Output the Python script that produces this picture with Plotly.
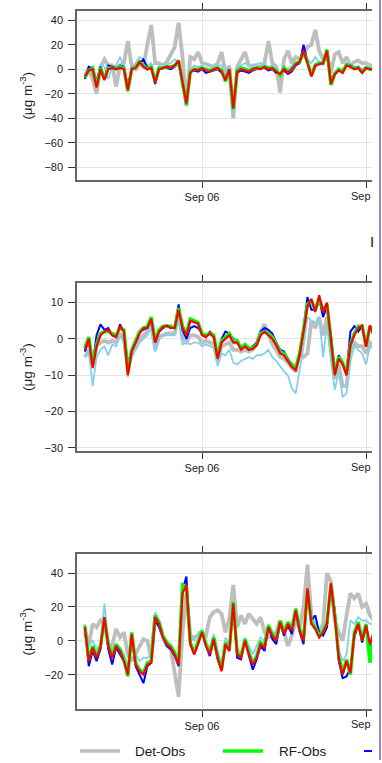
import pandas as pd
import plotly.graph_objects as go

W, H = 382, 763

# 4-hourly time stamps starting Sep 01 00:00
times = pd.date_range("2021-09-01 00:00", periods=75, freq="4h")

SERIES = ["Det-Obs", "Ens-Obs", "QR-Obs", "RF-Obs", "XGB-Obs"]
COLORS = {"Det-Obs": "#BEBEBE", "Ens-Obs": "#87CEEB", "QR-Obs": "#0000FF",
          "RF-Obs": "#00FF00", "XGB-Obs": "#FF0000"}
WIDTHS = {"Det-Obs": 3.8, "Ens-Obs": 1.8, "QR-Obs": 2.0, "RF-Obs": 3.4, "XGB-Obs": 2.2}

# ---- panel 1 ----
p1_det = [-4, 0, -8, -20, 2, 8, 3, 3, -14, 3, 5, 23, 2, 0, 4, 2, 20, 36, 5, 5,
          3, 6, 12, 18, 38, 10, -30, 10, 8, 14, 5, 4, 3, 2, 5, 14, -3, 3, -40, 2,
          8, 14, 3, 2, 3, 2, 5, 23, 5, 2, -19, 8, 15, 5, 10, 8, 12, 18, 20, 32,
          15, 8, 12, -3, 12, 14, 5, 10, 3, 6, 7, 5, 5, 3, 3]
p1_ens = [-5, 2, -5, -12, 3, 2, -8, 2, 3, 10, 2, -15, 2, 5, 10, 8, 3, 5, -8, 3,
          4, 4, 5, 8, 6, -15, -30, 0, 3, 2, 3, 5, 3, 2, 3, 3, -5, 2, -38, 2,
          3, 5, 3, 4, 4, 5, 4, 2, 3, 3, -6, 2, 0, 3, 5, 7, 12, 8, 5, 10,
          6, 4, 12, -8, -3, 0, 0, 3, 4, 2, 2, 0, 2, 1, 1]
p1_qr = [-8, 2, 1, -10, 2, -7, 3, 2, 1, 3, 2, -14, 1, 2, 5, 8, 1, 2, -12, 0,
         1, 1, 0, 2, 5, -10, -26, -2, -1, -2, 0, -3, -2, -1, 0, -3, -7, -1, -30, -3,
         -1, -2, -3, -1, 0, 1, 1, -1, 0, -3, -3, -1, -4, -2, 3, 5, 20, 6, -4, 4,
         5, 4, 13, -10, -3, 0, -2, 4, 3, 1, 2, -2, 1, 0, 0]
p1_rf = [-7, -1, 1, -14, 1, -8, 1, 1, 0, 2, 1, -18, 0, 2, 6, 3, 0, 2, -10, 1,
         1, 2, 2, 3, 7, -11, -29, -2, 0, 0, 1, 0, -1, 0, 1, -1, -10, 0, -33, -1,
         1, 0, -1, 0, 1, 1, 2, 1, 1, -1, -5, 1, -2, 0, 5, 6, 14, 6, -5, 3,
         5, 5, 16, -13, -4, 0, -2, 4, 2, 1, 1, -2, 1, 0, 0]
p1_xgb = [-6, -1, 0, -15, 0, -9, 0, 1, 0, 1, 0, -17, 0, 1, 6, 2, 0, 1, -11, 0,
          1, 2, 1, 3, 7, -12, -28, -3, 0, -1, 1, -1, -2, 0, 1, -2, -9, 0, -32, -2,
          0, -1, -2, 0, 1, 0, 2, 0, 1, -2, -4, 0, -3, 0, 4, 6, 15, 5, -6, 3,
          4, 5, 15, -12, -4, -1, -3, 3, 2, 0, 1, -3, 1, 0, 0]

# ---- panel 2 ----
p2_det = [-5, -3, -7, -2, -1, -0.5, -1, -0.5, -1, 1.5, 0, -8, -4, -2, 0, 1, 2, 4, -3, 0.5,
          1, 1.5, 1.5, 1.5, 7, 0, -1, 1, 1, 0.5, -1, -0.5, -1, -1.5, -6, -2, -1.5, -1, -3, -3,
          -3.5, -3, -3.5, -3, -1.5, 2, 4, 1, -1.5, -3, -5, -5.5, -6.5, -8, -9, -4, -5, -4, 5, 3,
          6, 1, 6, -1, -11, -7, -13, -13, -3, -1, -2, -2, -4, -1, -2]
p2_ens = [-5, -3.5, -13, -5, -3, -2, -4.5, -1.5, -2, 1, -1, -10.5, -5, -3, -1, 0, 1, 3, -3.5, 0,
          1, 1, 1, 1, 6, -1.5, -1, -1.5, -1, -1, -2, -1.5, -2, -2.5, -7.5, -4, -4.5, -3, -6.5, -7,
          -6, -5.5, -5, -5.5, -4.5, -4.5, -4, -3, -5, -6, -7.5, -9, -10, -13.5, -15, -9, -2, 6, 5, 4.5,
          6, -5, 4, -6, -14, -9, -16, -15, -6, -2, -3, -4, -7, -2, -3]
p2_qr = [-3.5, -0.5, -7, 1, 4, 2.5, 3, 1, 0.5, 4, 2, -7, -3, -1, 2, 2.5, 3, 5, -1, 2,
         3, 3.5, 3, 3, 9.5, 2.5, 0, 3, 3.5, 3, 1.5, 0.5, 2, 1, -4.5, 0, 2, 1.5, 0, -0.5,
         -2.5, -2, -3, -2, -1, 2, 3, 2.5, 1.5, -1, -3, -3.5, -5.5, -7, -8.5, -4, 3, 11.5, 8, 8,
         11, 6, 9, 1, -9, -4.5, -6.5, -9, 2, 3.5, 2, 3.5, -1.5, 3, 1]
p2_rf = [-2.5, 0.5, -7, -1.5, 1.5, 2, 2, 1.5, 1, 3, 2.5, -9, -3, -0.5, 2, 3, 3.5, 6, -0.5, 2.5,
         3.5, 3.5, 3.5, 3, 8.5, 3.5, 1.5, 5.5, 5, 4.5, 1.5, 1, 1.5, 1, -5, -0.5, 0.5, 1.5, -0.5, -0.5,
         -2.5, -1.5, -2.5, -2.5, -1.5, 1.5, 2, 1.5, 0.5, -1.5, -3.5, -4, -6, -7, -8, -4, 2.5, 9.5, 10.5, 8,
         11, 8, 9.5, 0.5, -9.5, -5, -6.5, -9.5, -1.5, 1.5, 3.5, 3.5, -2, 3.5, 2]
p2_xgb = [-3, 0, -8, -2, 1, 2, 2.5, 1, 0.5, 3.5, 2, -10, -3.5, -1, 1.5, 3, 3, 5.5, -1, 2,
          3.3, 3.7, 3, 3, 8, 3, 1, 5, 4.7, 4.2, 1, 0.5, 1.5, 0.5, -5.5, -1, 0, 1, -1, -1,
          -3, -2, -3, -2.7, -1.7, 1, 2, 1, 0, -1.7, -4, -4.5, -6.3, -7.7, -8.6, -4.5, 2, 9, 11, 7.4,
          12, 7.4, 10, 0, -10, -5.4, -7, -10, -1.7, 1, 3, 3.7, -2.2, 3.7, 1]

# ---- panel 3 ----
p3_det = [5, -2, 10, 8, 12, 10, -2, -3, 7, 2, 5, -8, -12, -8, -3, 1, 0, -10, 15, 10,
          2, -3, -5, -20, -33, 5, 28, 3, 2, 3, 5, 3, 14, 17, 18, 16, 5, 13, 33, 8,
          15, 10, 16, 13, 10, 14, 5, 2, 3, 5, 12, 5, -3, 3, 12, 8, 20, 45, 15, 8,
          5, 10, 40, 35, 12, 5, 0, 15, 28, 25, 28, 20, 22, 15, 12]
p3_ens = [10, -3, 0, -5, -2, 22, 0, -5, -2, -4, -8, -15, -5, -8, -12, -10, -10, -8, 17, 12,
          3, 0, -3, -8, -10, 30, 34, 2, 0, 5, 6, 0, -5, 4, -6, -14, 2, -2, 20, -4,
          -8, 2, -3, -8, -3, 2, 0, 10, 5, 3, 12, 6, 10, 8, 16, 8, 3, 28, 12, 10,
          5, 8, 12, 32, 15, -5, -12, -8, 12, 10, 14, 12, 12, 10, 10]
p3_qr = [8, -15, -6, -12, -5, 14, -5, -14, -4, -8, -12, -19, 3, -15, -20, -25, -15, -13, 12, 8,
         2, -3, -5, -9, -15, 30, 38, -1, -8, -2, 6, -3, -9, 0, -11, -17, -2, -6, 21, -10,
         -11, 1, -9, -17, -11, -3, -6, 8, 1, -2, 10, 3, 9, 4, 17, 5, -2, 30, 12, 15,
         5, 3, 8, 33, 18, -12, -22, -21, -16, 2, 10, -1, 8, -3, 5]
p3_rf = [9, -11, -3, -9, -3, 13, -2, -9, -2, -5, -11, -21, 5, -13, -17, -19, -13, -12, 15, 11,
         3, -1, -3, -7, -13, 33, 32, -1, -7, -1, 6, -2, -7, 2, -9, -17, -1, -5, 23, -7,
         -9, 1, -7, -13, -9, -1, -3, 9, 4, 1, 12, 5, 11, 7, 19, 7, 1, 29, 11, 8,
         3, 6, 11, 33, 15, -9, -19, -11, -20, 5, 11, 1, 10, -13, 6]
p3_xgb = [8, -12, -4, -10, -4, 14, -3, -10, -3, -6, -12, -20, 4, -14, -18, -20, -14, -13, 14, 10,
          2, -2, -4, -8, -14, 28, 33, -2, -8, -2, 5, -3, -8, 1, -10, -18, -2, -6, 22, -8,
          -10, 0, -8, -14, -10, -2, -4, 8, 3, 0, 11, 4, 10, 6, 18, 6, 0, 31, 10, 7,
          2, 5, 10, 34, 14, -10, -20, -12, -19, 4, 10, 0, 9, -2, 5]

PANEL_DATA = [
    dict(zip(SERIES, [p1_det, p1_ens, p1_qr, p1_rf, p1_xgb])),
    dict(zip(SERIES, [p2_det, p2_ens, p2_qr, p2_rf, p2_xgb])),
    dict(zip(SERIES, [p3_det, p3_ens, p3_qr, p3_rf, p3_xgb])),
]
Y_TICKS = [
    [40, 20, 0, -20, -40, -60, -80],
    [10, 0, -10, -20, -30],
    [40, 20, 0, -20],
]
Y_RANGES = [[-90.6, 47.5], [-30.9, 15.5], [-40.2, 51.2]]
X_TICKS = ["2021-09-06", "2021-09-13"]
X_TICKTEXT = ["Sep 06", ""]
# the label of the second week tick runs into the page edge; only "Sep" shows
EDGE_LABEL = "Sep"
X_RANGE = ["2021-08-31 15:57", "2021-09-13 06:06"]

# panel frames in pixels (top, bottom), shared left/right edges
FRAMES = [(11, 181), (283.7, 453), (556.3, 711.7)]
LEFT, RIGHT = 77, 372

FONT = "Liberation Sans, Arial, sans-serif"
INK = "#1a1a1a"
FRAME = "#666666"
GRID = "#E6E6E6"

fig = go.Figure()
layout = dict(
    width=W, height=H, margin=dict(l=0, r=0, t=0, b=0),
    paper_bgcolor="white", plot_bgcolor="white", showlegend=False,
    font=dict(family=FONT, size=11, color=INK),
)

annotations = []
for i, (data, (top, bot)) in enumerate(zip(PANEL_DATA, FRAMES)):
    n = i + 1
    xa = "x" if n == 1 else f"x{n}"
    ya = "y" if n == 1 else f"y{n}"
    for name in SERIES:
        fig.add_trace(go.Scatter(
            x=times, y=data[name], mode="lines", name=name,
            line=dict(color=COLORS[name], width=WIDTHS[name]),
            xaxis=xa, yaxis=ya, showlegend=False,
        ))
    layout[f"xaxis{'' if n == 1 else n}"] = dict(
        domain=[LEFT / W, RIGHT / W], anchor=ya, type="date", range=X_RANGE,
        tickmode="array", tickvals=X_TICKS, ticktext=X_TICKTEXT,
        showgrid=True, gridcolor=GRID, gridwidth=1, zeroline=False,
        showline=True, linecolor=FRAME, linewidth=1.5, mirror="ticks",
        ticks="outside", ticklen=6, tickwidth=1, tickcolor="#333",
        tickfont=dict(size=11, color=INK, family=FONT),
    )
    layout[f"yaxis{'' if n == 1 else n}"] = dict(
        domain=[1 - bot / H, 1 - top / H], anchor=xa, range=Y_RANGES[i],
        tickmode="array", tickvals=Y_TICKS[i],
        showgrid=True, gridcolor=GRID, gridwidth=1, zeroline=False,
        showline=True, linecolor=FRAME, linewidth=1.5, mirror=False,
        ticks="outside", ticklen=7, tickwidth=1, tickcolor="#333",
        tickfont=dict(size=11, color=INK, family=FONT), ticklabelstandoff=3,
    )
    annotations.append(dict(
        text="(μg m<sup>-3</sup>)", textangle=-90, showarrow=False,
        xref="paper", yref="paper", x=26 / W, y=1 - (top + bot) / 2 / H,
        xanchor="center", yanchor="middle",
        font=dict(size=13.5, color=INK, family=FONT),
    ))
    # edge label of the Sep 13 tick, cut by the page edge
    annotations.append(dict(
        text=EDGE_LABEL, showarrow=False, xref="paper", yref="paper",
        x=348.5 / W, y=1 - (bot + 15.5) / H, xanchor="left", yanchor="middle",
        font=dict(size=11, color=INK, family=FONT),
    ))

# stem of a title sitting at the right edge between the first two panels
annotations.append(dict(
    text="I", showarrow=False, xref="paper", yref="paper",
    x=367.5 / W, y=1 - 242 / H, xanchor="left", yanchor="middle",
    font=dict(size=15, color=INK, family=FONT),
))

# key along the bottom
KEY_Y = 754
key_items = [("Det-Obs", 80, 120, 133), ("RF-Obs", 223, 263, 277), ("QR-Obs", 364, 372, None)]
shapes = []
for name, x0, x1, tx in key_items:
    shapes.append(dict(
        type="line", xref="paper", yref="paper", layer="above",
        x0=x0 / W, x1=x1 / W, y0=1 - KEY_Y / H, y1=1 - KEY_Y / H,
        line=dict(color=COLORS[name], width=3.5 if name != "QR-Obs" else 2),
    ))
    if tx is not None:
        annotations.append(dict(
            text=name, showarrow=False, xref="paper", yref="paper",
            x=tx / W, y=1 - KEY_Y / H, xanchor="left", yanchor="middle",
            font=dict(size=13.5, color=INK, family=FONT),
        ))

# the page edge: purple border line
shapes.append(dict(type="line", xref="paper", yref="paper", layer="above",
                   x0=380 / W, x1=380 / W, y0=0, y1=1,
                   line=dict(color="#9B84D2", width=2)))

layout["annotations"] = annotations
layout["shapes"] = shapes
fig.update_layout(**layout)

fig.write_html("out.html")
